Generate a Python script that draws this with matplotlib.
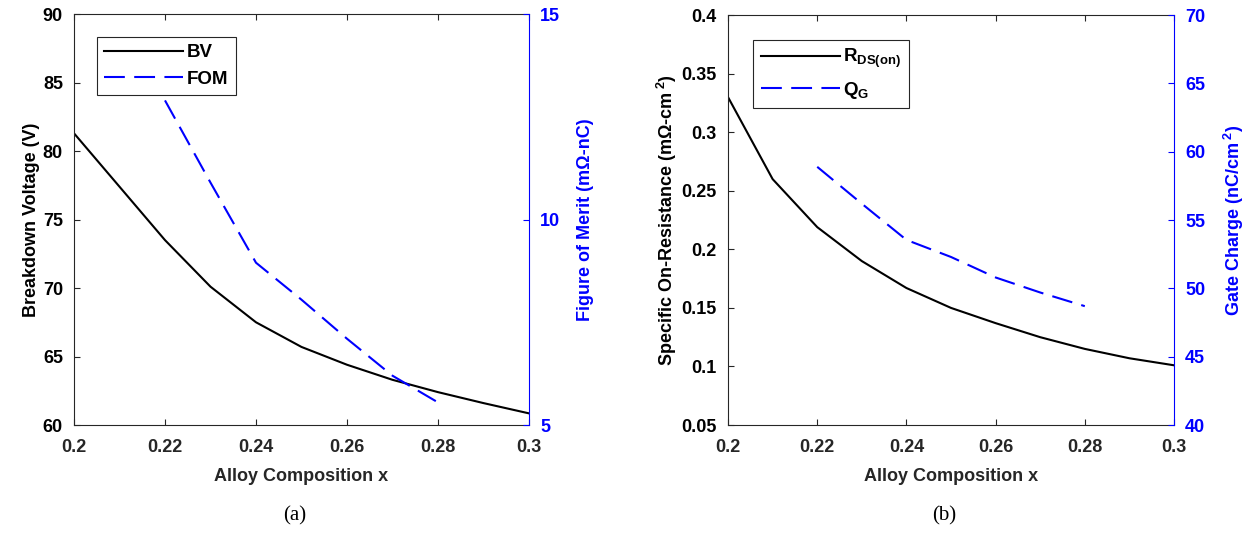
import matplotlib.pyplot as plt

plt.rcParams['font.family'] = ['Liberation Sans', 'DejaVu Sans']
plt.rcParams['font.weight'] = 'bold'
plt.rcParams['axes.labelweight'] = 'bold'
plt.rcParams['mathtext.fontset'] = 'custom'
plt.rcParams['mathtext.rm'] = 'Liberation Sans:bold'
plt.rcParams['mathtext.it'] = 'Liberation Sans:bold'
plt.rcParams['mathtext.bf'] = 'Liberation Sans:bold'

# Data
x_full = [0.20, 0.21, 0.22, 0.23, 0.24, 0.25, 0.26, 0.27, 0.28, 0.29, 0.30]
x_part = [0.22, 0.23, 0.24, 0.25, 0.26, 0.27, 0.28]

bv = [81.3, 77.4, 73.5, 70.1, 67.5, 65.7, 64.4, 63.3, 62.4, 61.6, 60.85]
fom = [12.9, 10.9, 8.95, 8.05, 7.1, 6.2, 5.55]

rdson = [0.330, 0.260, 0.219, 0.190, 0.167, 0.150, 0.137, 0.125, 0.115, 0.107, 0.101]
qg = [58.9, 56.2, 53.55, 52.3, 50.8, 49.7, 48.7]

xticks = [0.2, 0.22, 0.24, 0.26, 0.28, 0.3]
xticklabels = ['0.2', '0.22', '0.24', '0.26', '0.28', '0.3']

dark = '#262626'
blue = '#0000ff'
dash = (0, (10, 4.5))
tick_fs = 13
label_fs = 13
leg_fs = 13.5

fig = plt.figure(figsize=(12.52, 5.35), dpi=100)


def style_axes(ax, ax2):
    ax.set_xlim(0.2, 0.3)
    ax.set_xticks(xticks)
    ax.set_xticklabels(xticklabels)
    ax.tick_params(axis='x', direction='in', top=True, length=4, colors=dark,
                   labelsize=tick_fs, pad=10)
    ax.tick_params(axis='y', direction='in', length=4, colors=dark,
                   labelcolor='black', labelsize=tick_fs, pad=8)
    for s in ['left', 'bottom', 'top']:
        ax.spines[s].set_color(dark)
        ax.spines[s].set_linewidth(0.8)
    ax.spines['right'].set_visible(False)
    ax2.spines['right'].set_color(blue)
    ax2.spines['right'].set_linewidth(0.8)
    for s in ['left', 'bottom', 'top']:
        ax2.spines[s].set_visible(False)
    ax2.tick_params(axis='y', direction='in', length=4, colors=blue,
                    labelsize=tick_fs, pad=8)
    ax.set_xlabel('Alloy Composition x', fontsize=label_fs, color=dark, labelpad=9)


# (a)
ax1 = fig.add_axes([0.0591, 0.2056, 0.3634, 0.768])
ax1b = ax1.twinx()
l1, = ax1.plot(x_full, bv, color='black', lw=1.5, label='BV')
l2, = ax1b.plot(x_part, fom, color=blue, lw=1.5, linestyle=dash, label='FOM')
ax1.set_ylim(60, 90)
ax1.set_yticks(range(60, 91, 5))
ax1b.set_ylim(5, 15)
ax1b.set_yticks([5, 10, 15])
style_axes(ax1, ax1b)
ax1.set_ylabel('Breakdown Voltage (V)', fontsize=label_fs, labelpad=2)
ax1b.set_ylabel('Figure of Merit (mΩ-nC)', fontsize=label_fs, color=blue, labelpad=12)
leg = ax1b.legend([l1, l2], ['BV', 'FOM'], loc='upper left',
                  bbox_to_anchor=(0.05, 0.945), fontsize=leg_fs, handlelength=4.2,
                  fancybox=False, framealpha=1, edgecolor=dark, borderpad=0.4,
                  labelspacing=0.5, handletextpad=0.2, borderaxespad=0)
leg.get_frame().set_linewidth(0.8)
fig.text(0.235, 0.028, '(a)', family='Liberation Serif', fontweight='normal',
         fontsize=15, ha='center')

# (b)
ax2 = fig.add_axes([0.5815, 0.2056, 0.3562, 0.766])
ax2b = ax2.twinx()
r1, = ax2.plot(x_full, rdson, color='black', lw=1.5)
r2, = ax2b.plot(x_part, qg, color=blue, lw=1.5, linestyle=dash)
ax2.set_ylim(0.05, 0.4)
ax2.set_yticks([0.05, 0.1, 0.15, 0.2, 0.25, 0.3, 0.35, 0.4])
ax2.set_yticklabels(['0.05', '0.1', '0.15', '0.2', '0.25', '0.3', '0.35', '0.4'])
ax2b.set_ylim(40, 70)
ax2b.set_yticks(range(40, 71, 5))
style_axes(ax2, ax2b)
ax2.set_ylabel('Specific On-Resistance (mΩ-cm$^{\\ 2}$)', fontsize=label_fs, labelpad=2)
ax2b.set_ylabel('Gate Charge (nC/cm$^{\\ 2}$)', fontsize=label_fs, color=blue, labelpad=12)
leg2 = ax2b.legend([r1, r2], ['R$_{\\mathrm{DS(on)}}$', 'Q$_{\\mathrm{G}}$'],
                   loc='upper left', bbox_to_anchor=(0.057, 0.94), fontsize=leg_fs,
                   handlelength=4.2, fancybox=False, framealpha=1, edgecolor=dark,
                   borderpad=0.4, labelspacing=0.5, handletextpad=0.2, borderaxespad=0)
leg2.get_frame().set_linewidth(0.8)
fig.text(0.754, 0.028, '(b)', family='Liberation Serif', fontweight='normal',
         fontsize=15, ha='center')

fig.savefig('out.png', dpi=100)
